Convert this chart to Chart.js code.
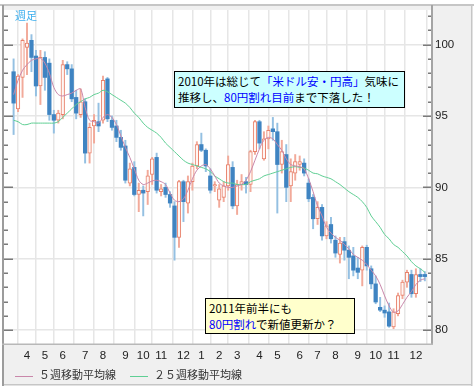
<!DOCTYPE html>
<html lang="ja">
<head>
<meta charset="utf-8">
<title>USD/JPY 週足</title>
<script src="https://cdn.jsdelivr.net/npm/chart.js@4.4.1/dist/chart.umd.min.js"></script>
<style>
  html, body { margin: 0; padding: 0; background: #fff; }
  #wrap { position: relative; width: 476px; height: 388px; overflow: hidden; }
  #chart { position: absolute; left: 0; top: 0; }
  .note {
    position: absolute; box-sizing: border-box; border: 1px solid #000;
    font-family: "Noto Sans CJK JP", sans-serif; font-size: 11.5px; line-height: 16px;
    color: #000; padding: 1px 3px; white-space: nowrap;
  }
  .note .b { color: #0000ff; }
  #n1 { left: 174px; top: 71px; width: 231px; height: 37px; background: #ccffff; }
  #n2 { left: 205px; top: 298px; width: 150px; height: 36px; background: #ffffcc; }
  #tf { position: absolute; left: 15px; top: 7px; font-family: "Noto Sans CJK JP", sans-serif; font-size: 11px; color: #3aaeee; }
  #legend { position: absolute; left: 15px; top: 366px; font-family: "Noto Sans CJK JP", sans-serif; font-size: 11px; color: #333; white-space: nowrap; }
  #legend span.ln { display: inline-block; width: 18px; height: 1px; vertical-align: middle; margin-right: 6px; }
  #legend span.it { margin-right: 14px; }
</style>
</head>
<body>
<div id="wrap">
  <canvas id="chart" width="476" height="388"></canvas>
  <div id="tf">週足</div>
  <div class="note" id="n1">2010年は総じて<span class="b">「米ドル安・円高」</span>気味に<br>推移し、<span class="b">80円割れ目前</span>まで下落した！</div>
  <div class="note" id="n2">2011年前半にも<br><span class="b">80円割れ</span>で新値更新か？</div>
  <div id="legend"><span class="ln" style="background:#c987aa"></span><span class="it">５週移動平均線</span><span class="ln" style="background:#5fcf94"></span><span class="it">２５週移動平均線</span></div>
</div>
<script>
// weekly USD/JPY, week 0 = mid March 2009
const monthLabels = ['4', '5', '6', '7', '8', '9', '10', '11', '12', '1', '2', '3', '4', '5', '6', '7', '8', '9', '10', '11', '12'];
const monthStartWeek = [3, 7, 11, 16, 20, 25, 29, 33, 38, 42, 46, 50, 55, 59, 64, 68, 72, 77, 81, 85, 90];

const opens = [98.1, 95.5, 97.7, 99.8, 100.3, 99.2, 97.1, 99.1, 98.7, 95.1,
    94.7, 95.1, 98.6, 98.3, 96.3, 95.1, 96.0, 92.4, 94.3, 94.6,
    94.7, 97.6, 94.7, 94.3, 93.5, 92.9, 90.3, 91.4, 89.5, 89.8,
    89.7, 90.9, 92.1, 89.7, 90.0, 89.5, 88.7, 86.5, 90.4, 88.9,
    90.4, 91.5, 93.0, 92.6, 90.8, 90.1, 89.1, 89.3, 90.1, 91.4,
    88.7, 90.2, 90.4, 90.2, 92.5, 94.6, 92.0, 93.4, 94.1, 93.9,
    91.6, 92.3, 90.1, 91.0, 91.6, 91.7, 90.3, 89.3, 87.8, 88.6,
    86.6, 87.4, 86.3, 85.3, 86.2, 85.6, 85.2, 84.35, 84.2, 85.8,
    84.3, 83.24, 81.6, 81.4, 81.28, 80.23, 81.16, 82.43, 83.36, 83.9,
    82.55, 83.9, 83.9];
const highs = [99.0, 97.9, 100.4, 101.5, 100.7, 99.6, 99.6, 99.5, 99.0, 95.4,
    95.4, 98.9, 98.8, 98.6, 96.8, 96.9, 96.2, 94.5, 95.1, 95.9,
    97.8, 97.7, 95.0, 94.7, 94.0, 93.3, 91.7, 91.8, 90.3, 90.1,
    91.2, 92.1, 92.4, 90.2, 90.3, 89.7, 89.0, 90.5, 90.5, 90.8,
    91.7, 93.2, 93.8, 92.7, 91.3, 90.4, 90.2, 90.4, 92.2, 91.8,
    90.5, 90.9, 90.7, 92.6, 94.7, 94.7, 93.9, 94.3, 94.9, 94.5,
    93.3, 93.0, 92.0, 92.3, 92.2, 92.0, 90.6, 89.5, 89.0, 88.8,
    87.6, 87.9, 86.6, 86.5, 86.5, 85.9, 85.8, 85.1, 85.9, 85.95,
    84.5, 83.8, 82.3, 81.7, 81.9, 81.5, 82.6, 83.5, 84.2, 84.2,
    84.3, 84.3, 84.1];
const lows = [93.7, 95.3, 96.3, 97.9, 98.1, 96.4, 95.8, 96.8, 94.7, 93.8,
    94.5, 94.8, 97.9, 96.0, 94.8, 94.9, 91.7, 91.7, 93.1, 93.9,
    94.5, 94.6, 94.0, 93.2, 92.6, 90.3, 90.1, 89.4, 88.3, 88.0,
    88.8, 90.2, 89.6, 89.4, 89.3, 88.6, 84.9, 85.8, 87.6, 88.2,
    89.8, 91.3, 92.5, 91.1, 89.6, 89.7, 88.6, 89.0, 89.8, 88.5,
    88.1, 89.8, 89.6, 89.7, 92.3, 92.7, 91.9, 92.7, 93.3, 88.2,
    91.0, 89.0, 89.0, 90.5, 91.2, 90.8, 89.0, 87.1, 87.4, 86.3,
    86.4, 86.1, 85.1, 84.7, 84.9, 83.6, 83.8, 83.6, 83.1, 84.2,
    82.9, 81.85, 81.3, 80.9, 80.2, 80.1, 81.0, 82.2, 83.0, 82.3,
    82.3, 83.4, 83.45];
const closes = [95.9, 97.8, 100.3, 100.1, 99.1, 97.1, 99.1, 97.7, 95.1, 94.7,
    95.2, 98.6, 98.3, 96.2, 95.2, 96.0, 92.4, 94.2, 94.7, 94.3,
    97.5, 94.8, 94.2, 93.5, 92.8, 90.5, 91.3, 89.5, 89.8, 89.6,
    90.8, 92.0, 89.8, 89.9, 89.5, 88.9, 86.5, 90.4, 89.0, 90.4,
    91.5, 93.0, 92.6, 91.5, 89.8, 90.2, 89.9, 90.1, 91.6, 88.7,
    90.2, 90.4, 90.2, 92.5, 94.6, 93.1, 93.4, 94.0, 93.9, 91.6,
    92.5, 90.0, 91.1, 91.8, 91.8, 91.0, 89.2, 87.8, 88.6, 86.6,
    87.3, 86.4, 85.4, 86.1, 85.6, 85.1, 84.2, 84.05, 85.8, 84.5,
    83.24, 81.97, 81.4, 81.2, 80.28, 81.28, 82.43, 83.36, 84.05, 82.55,
    83.9, 83.75, 83.75];
const ma5 = [96.5, 97.5, 98.2, 98.6, 98.9, 99.0, 99.05, 98.7, 98.0, 97.0,
    96.5, 96.4, 96.5, 96.6, 96.8, 96.9, 95.6, 94.7, 94.6, 94.5,
    94.9, 95.1, 94.9, 94.4, 93.6, 92.8, 92.1, 91.3, 90.5, 90.2,
    90.3, 90.45, 90.5, 90.4, 90.2, 89.6, 89.1, 89.0, 89.2, 89.8,
    90.6, 91.2, 91.5, 91.6, 91.3, 90.8, 90.3, 90.1, 90.0, 90.0,
    90.1, 90.2, 90.5, 91.1, 91.9, 92.7, 93.3, 93.5, 93.4, 93.0,
    92.6, 92.0, 91.6, 91.5, 91.45, 91.3, 90.6, 89.7, 88.7, 88.0,
    87.2, 86.8, 86.5, 86.3, 86.0, 85.7, 85.3, 85.1, 84.9, 84.6,
    84.2, 83.8, 83.2, 82.4, 81.7, 81.25, 81.35, 81.8, 82.3, 82.7,
    83.2, 83.5, 83.6];
const ma25 = [94.7, 94.6, 94.4, 94.4, 94.5, 94.5, 94.5, 94.5, 94.5, 94.5,
    94.6, 94.9, 95.2, 95.5, 95.8, 96.0, 96.2, 96.3, 96.5, 96.6,
    96.8, 96.7, 96.5, 96.3, 96.1, 95.9, 95.6, 95.2, 94.9, 94.5,
    94.2, 94.0, 93.8, 93.5, 93.1, 92.8, 92.5, 92.2, 91.9, 91.7,
    91.6, 91.5, 91.4, 91.3, 91.1, 90.8, 90.6, 90.4, 90.3, 90.3,
    90.2, 90.2, 90.2, 90.4, 90.5, 90.6, 90.8, 90.9, 91.0, 91.1,
    91.2, 91.3, 91.4, 91.45, 91.4, 91.35, 91.2, 91.0, 90.95, 90.8,
    90.7, 90.6, 90.4, 90.2, 89.95, 89.7, 89.5, 89.3, 89.0, 88.6,
    88.0, 87.6, 87.2, 86.7, 86.4, 86.0, 85.8, 85.5, 85.2, 84.8,
    84.5, 84.3, 84.05];

const UP = '#e8806a', UP_WICK = '#f2aa9a', UP_FILL = '#fff6f3';
const DOWN = '#3f84c2', DOWN_WICK = '#94c0e2';

const isUp = closes.map((c, i) => c >= opens[i]);
const bodies = opens.map((o, i) => ({ x: i, y: [Math.min(o, closes[i]), Math.max(o, closes[i])] }));
const wicks = lows.map((l, i) => ({ x: i, y: [l, highs[i]] }));

const framePlugin = {
    id: 'frame',
    beforeDraw(chart) {
        const { ctx, chartArea: a } = chart;
        ctx.save();
        ctx.fillStyle = '#ffffff';
        ctx.fillRect(0, 0, chart.width, chart.height);
        ctx.fillStyle = '#f0f0f0';
        ctx.fillRect(2, 5, 470, 380);
        ctx.fillStyle = '#ffffff';
        ctx.fillRect(a.left, a.top, a.right - a.left, a.bottom - a.top);
        ctx.restore();
    },
    afterDraw(chart) {
        const { ctx, chartArea: a, scales } = chart;
        ctx.save();
        // outer frame
        ctx.fillStyle = '#c6c6c6';
        ctx.fillRect(0, 4, 474, 2);
        ctx.fillRect(471, 5, 1.5, 381);
        ctx.fillRect(2, 384, 470, 1.5);
        ctx.fillStyle = '#9c9c9c';
        ctx.fillRect(2, 5, 2, 381);
        // axis lines
        ctx.fillStyle = '#a4a4a4';
        ctx.fillRect(a.right - 1, 5, 2, a.bottom - 5);
        ctx.fillStyle = '#b8b8b8';
        ctx.fillRect(2, a.bottom - 0.5, a.right - 1, 1.5);
        // tick marks on both sides
        ctx.strokeStyle = '#7a7a7a';
        ctx.lineWidth = 1.5;
        for (let v = 80; v <= 102; v++) {
            const y = Math.round(scales.y.getPixelForValue(v)) + 0.25;
            const major = v % 5 === 0;
            ctx.beginPath();
            ctx.moveTo(a.left + 1, y);
            ctx.lineTo(a.left + (major ? 10 : 5), y);
            ctx.moveTo(a.right - (major ? 9 : 4), y);
            ctx.lineTo(a.right - 1, y);
            ctx.stroke();
        }
        ctx.restore();
    }
};

new Chart(document.getElementById('chart'), {
    type: 'bar',
    data: {
        datasets: [
            {
                type: 'line',
                label: '５週移動平均線',
                data: ma5.map((v, i) => ({ x: i, y: v })),
                borderColor: '#c987aa',
                borderWidth: 1,
                pointRadius: 0,
                tension: 0.3,
                order: 0,
            },
            {
                type: 'line',
                label: '２５週移動平均線',
                data: ma25.map((v, i) => ({ x: i, y: v })),
                borderColor: '#5fcf94',
                borderWidth: 1,
                pointRadius: 0,
                tension: 0.3,
                order: 0,
            },
            {
                label: 'body',
                data: bodies,
                grouped: false,
                barThickness: 3.6,
                minBarLength: 1,
                backgroundColor: isUp.map(u => (u ? UP_FILL : DOWN)),
                borderColor: isUp.map(u => (u ? UP : DOWN)),
                borderWidth: isUp.map(u => (u ? 1 : 0)),
                borderSkipped: false,
                order: 1,
            },
            {
                label: 'wick',
                data: wicks,
                grouped: false,
                barThickness: 1.3,
                backgroundColor: isUp.map(u => (u ? UP_WICK : DOWN_WICK)),
                borderWidth: 0,
                order: 2,
            },
        ],
    },
    options: {
        responsive: false,
        animation: false,
        layout: { padding: { left: 3, top: 7, right: 0, bottom: 0 } },
        plugins: {
            legend: { display: false },
            tooltip: { enabled: false },
        },
        scales: {
            x: {
                type: 'linear',
                min: -2.37,
                max: 93.6,
                offset: false,
                afterBuildTicks: scale => {
                    scale.ticks = monthStartWeek.map(v => ({ value: v }));
                },
                afterFit: scale => { scale.height = 44; },
                ticks: {
                    autoSkip: false,
                    maxRotation: 0,
                    padding: 5,
                    color: '#222',
                    font: { family: 'Liberation Sans', size: 11.5 },
                    callback: (value, index) => monthLabels[index],
                },
                grid: { color: '#e6e6e6', lineWidth: 1.5, drawTicks: false },
                border: { display: false },
            },
            y: {
                position: 'right',
                min: 79.03,
                max: 102.43,
                afterFit: scale => { scale.width = 44; },
                ticks: {
                    stepSize: 1,
                    autoSkip: false,
                    includeBounds: false,
                    padding: 3,
                    color: '#222',
                    font: { family: 'Liberation Sans', size: 11.5 },
                    callback: value => (Math.round(value) % 5 === 0 ? String(Math.round(value)) : ''),
                },
                grid: {
                    drawTicks: false,
                    lineWidth: 1.5,
                    color: c => (c.tick && Math.round(c.tick.value) % 5 === 0 ? '#e6e6e6' : 'rgba(0,0,0,0)'),
                },
                border: { display: false },
            },
        },
    },
    plugins: [framePlugin],
});
</script>
</body>
</html>
